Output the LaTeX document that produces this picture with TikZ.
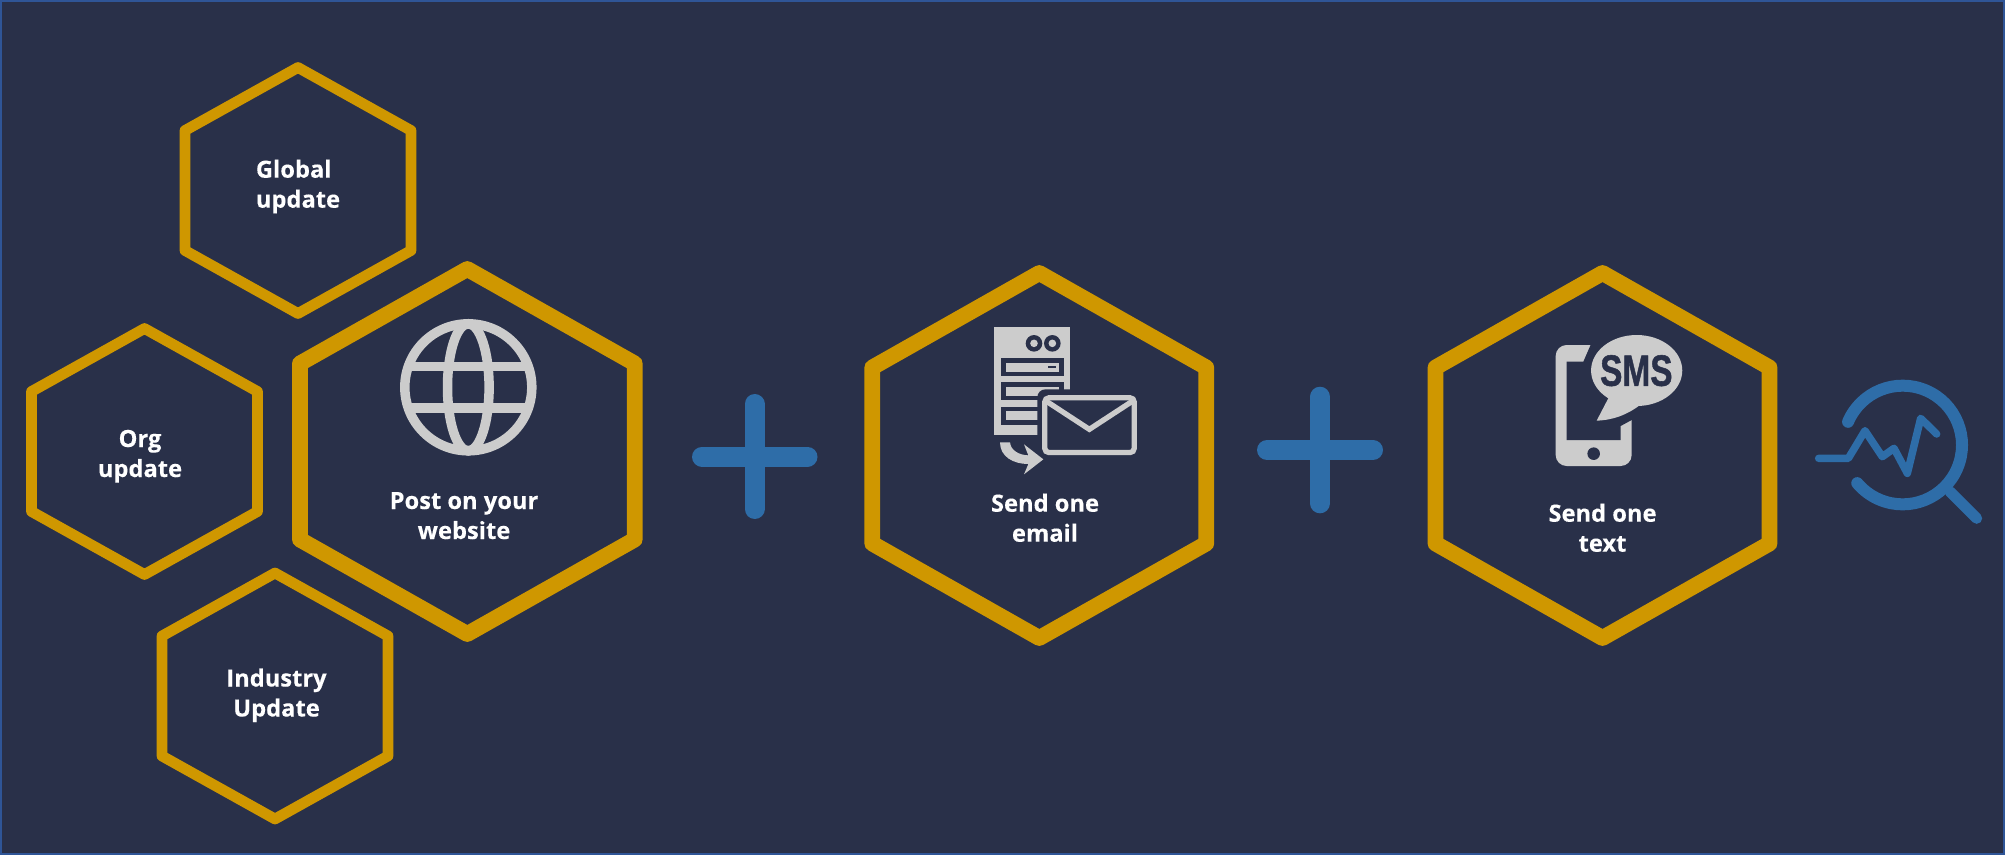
\documentclass[tikz,border=0pt]{standalone}
\usepackage{fontspec}
\setmainfont{Open Sans}
\newfontfamily\smsfont{Liberation Sans}[FakeBold=1.2]
\newfontfamily\lblfont{Open Sans Bold}[FakeBold=0.15]
\definecolor{bgc}{HTML}{293049}
\definecolor{edgec}{HTML}{2F5597}
\definecolor{goldc}{HTML}{CF9700}
\definecolor{bluec}{HTML}{2E6DA8}
\definecolor{grayc}{HTML}{CCCCCC}
\tikzset{
  hexsmall/.style={draw=goldc,line width=10.7pt,line join=round},
  hexbig/.style={draw=goldc,line width=15.8pt,line join=round},
  lbl/.style={text=white,font=\lblfont\fontsize{23.7}{30}\selectfont,inner sep=0pt,anchor=base},
  plusbar/.style={draw=bluec,line width=20pt,line cap=round},
  iconfill/.style={fill=grayc,draw=none},
  icondark/.style={fill=bgc,draw=none},
}
\newcommand{\hexa}[6]{\draw[#1] ({#2},{#3-#5}) -- ({#2+#4},{#3-#6}) -- ({#2+#4},{#3+#6}) -- ({#2},{#3+#5}) -- ({#2-#4},{#3+#6}) -- ({#2-#4},{#3-#6}) -- cycle;}
\begin{document}
\begin{tikzpicture}[x=1pt,y=-1pt]
\useasboundingbox (0,0) rectangle (2005,855);
\fill[bgc] (0,0) rectangle (2005,855);
\draw[edgec,line width=2pt] (1,1) rectangle (2004,854);
% small hexagons
\hexa{hexsmall}{298}{190.5}{113}{123}{60}
\hexa{hexsmall}{144.5}{451.5}{113}{123}{60}
\hexa{hexsmall}{275}{696}{113}{123}{60}
% big hexagons
\hexa{hexbig}{467.3}{451.5}{167.4}{182.5}{88}
\hexa{hexbig}{1039.3}{455.5}{167}{182.5}{88}
\hexa{hexbig}{1602.5}{455.5}{167}{182.5}{88}
% labels
\node[lbl,align=center] (org) at (140,477) {\makebox[84pt][c]{Org}\\update};
\node[lbl,align=center] (industry) at (276.5,716.5) {Industry\\Update};
\node[lbl,align=center] (web) at (464,539) {Post on your\\website};
\node[lbl,align=center] (email) at (1045,541.7) {Send one\\email};
\node[lbl,align=center] (text) at (1602.5,551.7) {Send one\\text};
\node[lbl,align=left] (global) at (298,207.7) {Global\\update};
% plus signs
\draw[plusbar] (702,456.7) -- (807.5,456.7);
\draw[plusbar] (754.5,404) -- (754.5,509);
\draw[plusbar] (1267,450) -- (1373,450);
\draw[plusbar] (1320,396.7) -- (1320,503.3);
% globe
\begin{scope}[shift={(468.3,387.3)}]
\draw[grayc,line width=9.5pt] (0,0) circle [radius=63.5pt];
\draw[grayc,line width=9.5pt] (0,0) ellipse [x radius=20.8pt,y radius=63.5pt];
\draw[grayc,line width=9.8pt] (-60,-20.8) -- (60,-20.8);
\draw[grayc,line width=9.8pt] (-60,20.8) -- (60,20.8);
\end{scope}
% server + envelope
\begin{scope}[shift={(960,300)},x=0.33333pt,y=-0.33333pt]
\fill[iconfill] (103,82) rectangle (330,406);
\fill[icondark] (222,130) circle [radius=8.3pt];
\fill[icondark] (277,130) circle [radius=8.3pt];
\fill[iconfill] (222,130) circle [radius=3.8pt];
\fill[iconfill] (277,130) circle [radius=3.8pt];
\fill[icondark] (124,175) rectangle (312,229);
\fill[iconfill] (138,188) rectangle (298,216);
\fill[icondark] (264,197) rectangle (287,205);
\fill[icondark] (124,247) rectangle (312,301);
\fill[iconfill] (138,260) rectangle (298,288);
\fill[icondark] (124,320) rectangle (312,375);
\fill[iconfill] (138,333) rectangle (298,361);
\fill[icondark,rounded corners=8pt] (232,268) rectangle (560,500);
\fill[icondark] (330,250) rectangle (340,300);
\draw[grayc,line width=5.3pt,rounded corners=4pt] (254.5,293.5) rectangle (522.5,457.5);
\draw[grayc,line width=5.3pt,miter limit=4] (258,303) -- (388,388) -- (518,303);
\fill[iconfill] (120,427) -- (150,427) .. controls (152,450) and (175,465) .. (205,466) -- (192,433) -- (250,478) -- (192,523) -- (205,492) .. controls (160,492) and (120,470) .. (120,427) -- cycle;
\end{scope}
% phone + SMS bubble
\begin{scope}[shift={(1530,320)},x=0.33333pt,y=-0.33333pt]
\fill[iconfill,rounded corners=11pt] (77,75) rectangle (305,438);
\fill[icondark] (183,72) -- (160,125) -- (110,125) -- (110,360) -- (272,360) -- (272,318) -- (305,300) -- (312,300) -- (312,72) -- cycle;
\fill[icondark] (191,401) circle [radius=6.3pt];
\fill[iconfill] (320,151.5) ellipse [x radius=45.6pt,y radius=35.5pt];
\fill[iconfill] (240,225) -- (200,302) .. controls (250,300) and (290,285) .. (330,255) -- cycle;
\node[inner sep=0pt,text=bgc,font=\smsfont\fontsize{44}{44}\selectfont\bfseries] (sms) at (319,152) {\scalebox{0.76}[1]{SMS}};
\end{scope}
% analytics magnifier
\begin{scope}[shift={(1800,360)},x=0.33333pt,y=-0.33333pt]
\draw[bluec,line width=12pt,line cap=round] ({308+178*cos(-157)},{255+178*sin(-157)}) arc [start angle=-157,end angle=140,x radius=178,y radius=178];
\draw[bluec,line width=11pt,line cap=round] (450,395) -- (530,475);
\draw[bluec,line width=7.5pt,line cap=round,line join=round] (56,295) -- (145,295) -- (195,212) -- (247,290) -- (282,265) -- (322,340) -- (362,175) -- (410,222);
\end{scope}
\end{tikzpicture}
\end{document}
